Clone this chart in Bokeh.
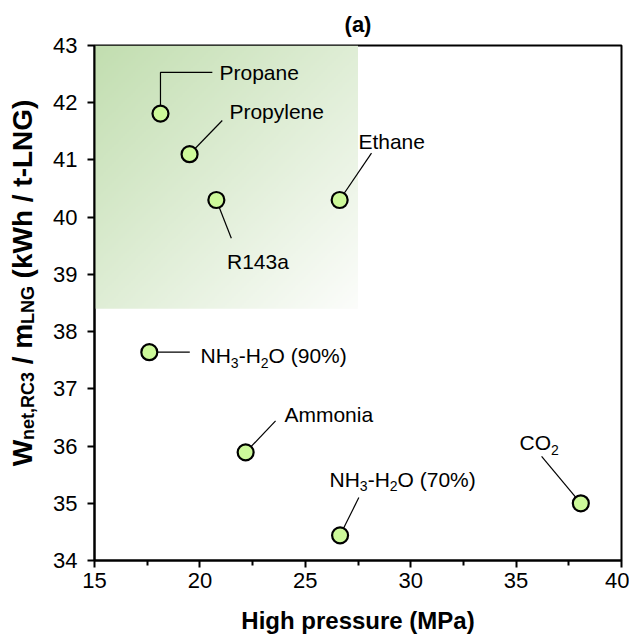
import numpy as np
from bokeh.plotting import figure
from bokeh.layouts import row
from bokeh.models import Label, FixedTicker, Range1d, ColumnDataSource
from bokeh.core.properties import value
from bokeh.embed import file_html
from bokeh.resources import INLINE

# ---------------- data ----------------
refrigerants = ["Propane", "Propylene", "R143a", "Ethane",
                "NH3-H2O (90%)", "Ammonia", "NH3-H2O (70%)", "CO2"]
high_pressure = [18.13, 19.51, 20.78, 26.63, 17.60, 22.17, 26.65, 38.07]   # MPa
w_net = [41.81, 41.10, 40.30, 40.30, 37.64, 35.89, 34.44, 35.00]           # kWh / t-LNG

x_ticks = [15, 20, 25, 30, 35, 40]
y_ticks = [34, 35, 36, 37, 38, 39, 40, 41, 42, 43]

# highlighted (shaded) region
region_x = [15.0, 27.5]
region_y = [38.4, 43.0]

# leader-line bend / end points (data units), one list per refrigerant
leader_x = [[18.13, 20.59], [21.06], [21.49], [28.14], [19.52], [23.59], [27.54], [36.21]]
leader_y = [[42.53, 42.53], [41.69], [39.63], [41.12], [37.64], [36.44], [35.10], [35.82]]

# label anchor points (data units)
label_x = [20.93, 21.40, 22.67, 27.52, 20.03, 24.01, 26.15, 35.16]
label_y = [42.53, 41.84, 39.22, 41.33, 37.58, 36.55, 35.42, 36.06]
label_align = ["left", "left", "center", "left", "left", "left", "left", "left"]
# rich labels: list of (text, is_subscript)
label_parts = [
    [("Propane", False)],
    [("Propylene", False)],
    [("R143a", False)],
    [("Ethane", False)],
    [("NH", False), ("3", True), ("-H", False), ("2", True), ("O (90%)", False)],
    [("Ammonia", False)],
    [("NH", False), ("3", True), ("-H", False), ("2", True), ("O (70%)", False)],
    [("CO", False), ("2", True)],
]

# ---------------- style ----------------
FONT = "Liberation Sans"
LW = 40                       # width of the y-title strip
W, H = 629, 639               # total size
ML, MR, MT, MB = 94 - LW, 8, 44, 79
PW = W - LW
FW, FH = PW - ML - MR, H - MT - MB
XR, YR = (15, 40), (34, 43)
PX_X = FW / (XR[1] - XR[0])
PX_Y = FH / (YR[1] - YR[0])

ANN_SIZE = 21
SUB_SIZE = 14
SUB_SHIFT = 7.0     # px, subscript box centre below main box centre

REG = {'N': 722, 'H': 722, '3': 556, '-': 333, '2': 556, 'O': 778, ' ': 278, '(': 333,
       '9': 556, '0': 556, '%': 889, ')': 333, '7': 556, 'C': 722}
BOLD = {'W': 944, 'n': 611, 'e': 556, 't': 333, ',': 278, 'R': 722, 'C': 722, '3': 556,
        ' ': 278, '/': 278, 'm': 889, 'L': 611, 'N': 722, 'G': 778, '(': 333, 'k': 556,
        'h': 611, ')': 333, '-': 333}


def twidth(s, size, table):
    return sum(table.get(c, 556) for c in s) / 1000.0 * size


p = figure(width=PW, height=H, x_range=Range1d(*XR), y_range=Range1d(*YR),
           output_backend="svg", toolbar_location=None,
           min_border_left=ML, min_border_right=MR, min_border_top=MT, min_border_bottom=MB)
p.background_fill_color = "white"
p.border_fill_color = "white"
p.outline_line_color = "black"
p.outline_line_width = 2
p.xgrid.grid_line_color = None
p.ygrid.grid_line_color = None

# title
p.title.text = "(a)"
p.title.align = "center"
p.title.text_font = FONT
p.title.text_font_size = "22px"
p.title.text_font_style = "bold"
p.title.text_color = "black"
p.title.standoff = 18

# gradient shaded region
nx, ny = 140, 140
u = np.linspace(0, 1, nx)[None, :]
v = 1 - np.linspace(0, 1, ny)[:, None]   # row 0 = bottom
t = np.clip((u + v) / 2.0, 0, 1)
c0 = np.array([194, 222, 176], dtype=float)
c1 = np.array([252, 253, 251], dtype=float)
img = np.empty((ny, nx), dtype=np.uint32)
view = img.view(dtype=np.uint8).reshape((ny, nx, 4))
for k in range(3):
    view[:, :, k] = (c0[k] * (1 - t) + c1[k] * t).astype(np.uint8)
view[:, :, 3] = 255
p.image_rgba(image=[img], x=region_x[0], y=region_y[0],
             dw=region_x[1] - region_x[0], dh=region_y[1] - region_y[0])

# leader lines
xs = [[x0] + lx for x0, lx in zip(high_pressure, leader_x)]
ys = [[y0] + ly for y0, ly in zip(w_net, leader_y)]
p.multi_line(xs=xs, ys=ys, line_color="black", line_width=1.2)

# points
p.scatter(high_pressure, w_net, size=16, fill_color="#CDF99A", line_color="black",
          line_width=2.2)

# labels (composed, with subscripts), anchored at box middle
tx, ty, tt, ts = [], [], [], []
for parts, lx, ly, al in zip(label_parts, label_x, label_y, label_align):
    total = sum(twidth(s, SUB_SIZE if sub else ANN_SIZE, REG) for s, sub in parts)
    start_px = 0.0 if al == "left" else -total / 2.0
    cur = start_px
    for s, sub in parts:
        size = SUB_SIZE if sub else ANN_SIZE
        tx.append(lx + cur / PX_X)
        ty.append(ly - (SUB_SHIFT / PX_Y if sub else 0))
        tt.append(s)
        ts.append(f"{size}px")
        cur += twidth(s, size, REG)
src = ColumnDataSource(dict(x=tx, y=ty, text=tt, size=ts))
p.text(x="x", y="y", text="text", text_font_size="size", source=src,
       text_font=value(FONT), text_color="black", text_align="left",
       text_baseline="middle")

# axes
p.xaxis.ticker = FixedTicker(ticks=x_ticks,
                             minor_ticks=[(a + b) / 2 for a, b in zip(x_ticks[:-1], x_ticks[1:])])
p.yaxis.ticker = FixedTicker(ticks=y_ticks)
for ax in (p.xaxis[0], p.yaxis[0]):
    ax.axis_line_width = 2
    ax.axis_line_color = "black"
    ax.major_tick_line_width = 2
    ax.major_tick_line_color = "black"
    ax.major_tick_in = 0
    ax.major_tick_out = 7
    ax.minor_tick_in = 0
    ax.minor_tick_out = 5
    ax.minor_tick_line_width = 2
    ax.major_label_text_font = FONT
    ax.major_label_text_font_size = "22px"
    ax.major_label_text_color = "black"
p.yaxis.minor_tick_line_color = None
p.xaxis.major_label_standoff = 5
p.yaxis.major_label_standoff = 10

p.xaxis.axis_label = "High pressure (MPa)"
p.xaxis.axis_label_text_font = FONT
p.xaxis.axis_label_text_font_size = "24px"
p.xaxis.axis_label_text_font_style = "bold"
p.xaxis.axis_label_text_color = "black"
p.xaxis.axis_label_standoff = 16

# ---------------- y-axis title strip (rotated, with subscripts) ----------------
# shares the main y range and has the same top/bottom borders, so its frame
# lines up with the main frame; x is in pixels across the strip.
q = figure(width=LW, height=H, x_range=Range1d(0, LW), y_range=p.y_range,
           output_backend="svg", toolbar_location=None,
           x_axis_location=None, y_axis_location=None,
           min_border_left=0, min_border_right=0, min_border_top=MT, min_border_bottom=MB)
q.grid.visible = False
q.outline_line_color = None
q.background_fill_color = "white"
q.border_fill_color = "white"

YF, YS = 28, 18
ylab = [("W", False, 0), ("net,RC3", True, 0), ("/ m", False, 1), ("LNG", True, 0),
        ("(kWh / t-LNG)", False, 1)]
total = 0.0
for s, sub, sp in ylab:
    size = YS if sub else YF
    total += twidth(s, size, BOLD) + sp * BOLD[' '] / 1000.0 * YF
center_page_y = 282.0
center_y = YR[1] - (center_page_y - MT) / PX_Y
cur = -total / 2.0          # px along the text, from centre
main_cx, sub_cx = 21.5, 27.5
for s, sub, sp in ylab:
    size = YS if sub else YF
    cur += sp * BOLD[' '] / 1000.0 * YF
    wdt = twidth(s, size, BOLD)
    q.add_layout(Label(x=sub_cx if sub else main_cx,
                       y=center_y + (cur + wdt / 2.0) / PX_Y, text=s,
                       angle=np.pi / 2, text_font=FONT, text_font_size=f"{size}px",
                       text_font_style="bold", text_align="center",
                       text_baseline="middle", text_color="black"))
    cur += wdt

layout = row(q, p)
open("out.html", "w").write(file_html(layout, INLINE))
